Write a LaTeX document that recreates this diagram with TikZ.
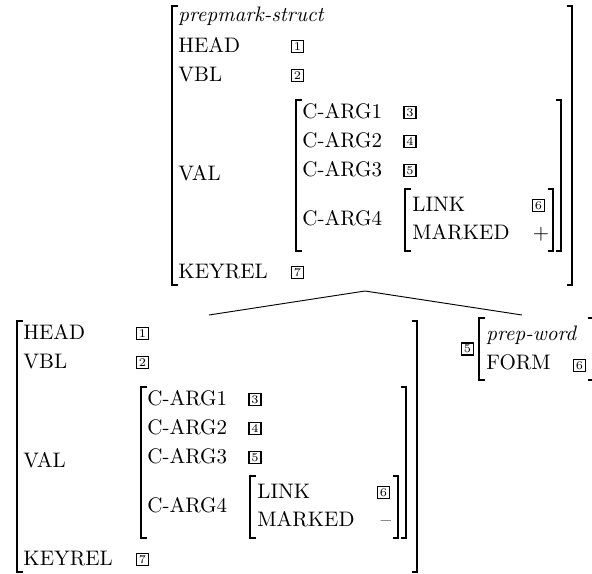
\documentclass[tikz,border=0pt]{standalone}
\newcommand\avmcore[3]{%
  % #1 name prefix, #2 value of MARKED, #3 top of the outer bracket
  \draw[brk] (177.5,#3) -- (172,#3) -- (172,285) -- (177.5,285);
  \draw[brk] (566.5,#3) -- (572,#3) -- (572,285) -- (566.5,285);
  \node[feat] (#1head) at (178,53) {HEAD};
  \node[tag] (#1t1) at (297.5,46.5) {1};
  \node[feat] (#1vbl) at (178,82) {VBL};
  \node[tag] (#1t2) at (297.5,75.5) {2};
  \node[feat] (#1val) at (178,181) {VAL};
  \node[feat] (#1key) at (178,279) {KEYREL};
  \node[tag] (#1t7) at (297.5,272.5) {7};
  % VAL
  \draw[brk] (301.5,100) -- (296,100) -- (296,251) -- (301.5,251);
  \draw[brk] (555.5,100) -- (561,100) -- (561,251) -- (555.5,251);
  \node[feat] (#1ca1) at (302,119) {C-ARG1};
  \node[tag] (#1t3) at (410,112.5) {3};
  \node[feat] (#1ca2) at (302,148) {C-ARG2};
  \node[tag] (#1t4) at (410,141.5) {4};
  \node[feat] (#1ca3) at (302,177) {C-ARG3};
  \node[tag] (#1t5) at (410,170.5) {5};
  \node[feat] (#1ca4) at (302,226) {C-ARG4};
  % C-ARG4 value
  \draw[brk] (410.5,189) -- (405,189) -- (405,251) -- (410.5,251);
  \draw[brk] (547.5,189) -- (553,189) -- (553,251) -- (547.5,251);
  \node[feat] (#1link) at (412,212) {LINK};
  \node[tag] (#1t6) at (538.5,205.5) {6};
  \node[feat] (#1marked) at (412,240) {MARKED};
  \node[anchor=base, inner sep=0pt] (#1sign) at (541,240) {#2};
}
\begin{document}
\begin{tikzpicture}[x=0.476pt,y=-0.476pt,
  feat/.style={anchor=base west, inner sep=0pt, font=\normalsize},
  tag/.style={draw, line width=0.75pt, inner sep=0pt, minimum width=5.6pt,
    minimum height=5.6pt, font=\fontsize{5.6}{6}\selectfont},
  brk/.style={line width=0.5pt},
  branch/.style={line width=0.45pt}]
\useasboundingbox (0,0) rectangle (592,574);
\clip (0,0) rectangle (592,574);

% mother
\avmcore{m}{$+$}{6}
\node[feat] (mtype) at (178,22) {\textit{prepmark-struct}};

% left daughter
\begin{scope}[shift={(-155,287)}]
  \avmcore{d}{--}{34}
\end{scope}

% right daughter
\node[tag] (rt5) at (467.5,349) {5};
\draw[brk] (484.5,318) -- (479,318) -- (479,380) -- (484.5,380);
\draw[brk] (588,318) -- (593.5,318) -- (593.5,380) -- (588,380);
\node[feat] (rtype) at (486,341) {\textit{prep-word}};
\node[feat] (rform) at (486,370) {FORM};
\node[tag] (rt6) at (579.5,365.5) {6};

% tree branches
\coordinate (apex) at (365,291);
\coordinate (ldau) at (209,315);
\coordinate (rdau) at (522,315);
\draw[branch] (ldau) -- (apex) -- (rdau);
\end{tikzpicture}
\end{document}
